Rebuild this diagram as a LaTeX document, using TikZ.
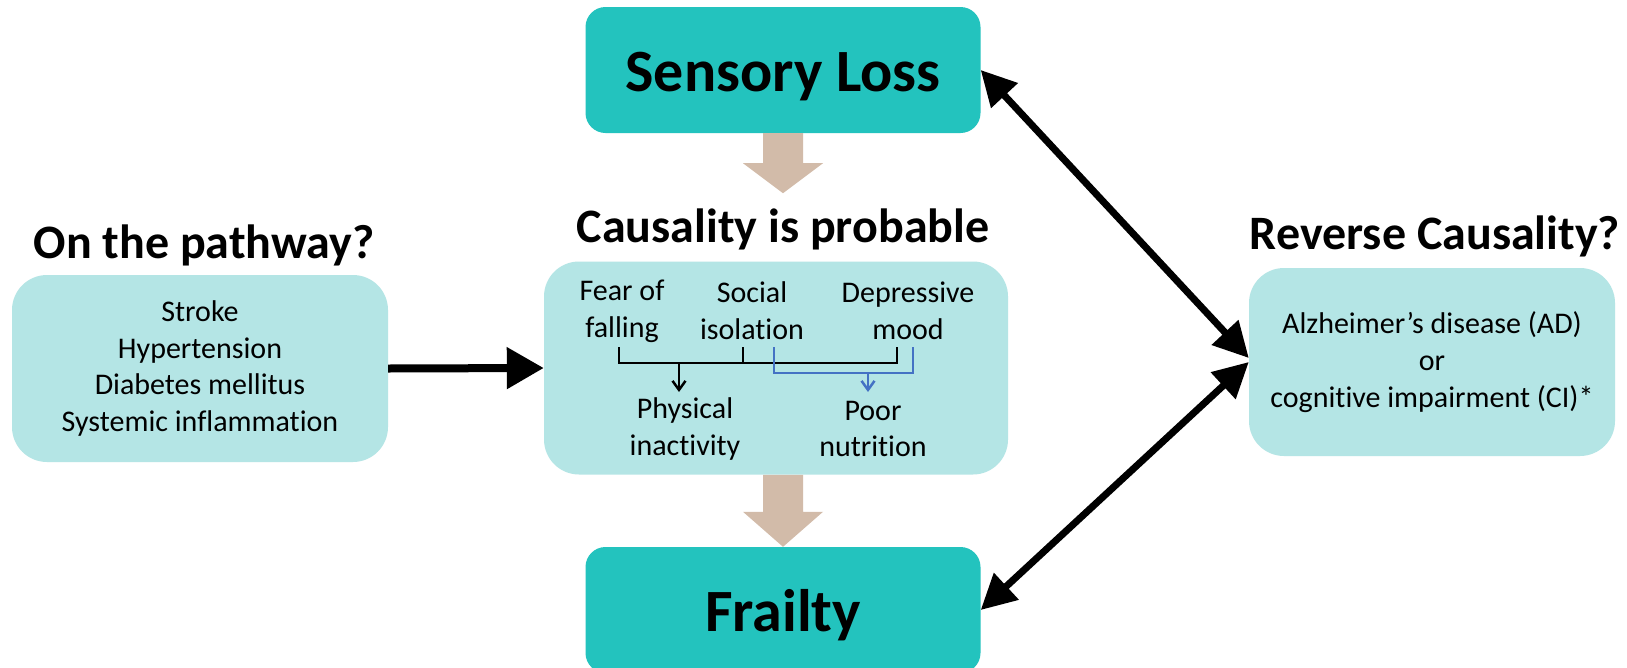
\documentclass[tikz,border=0pt]{standalone}
\usepackage{fontspec}
\setmainfont{Carlito}[Ligatures={NoCommon}]
\usetikzlibrary{arrows.meta,calc}
\definecolor{tealdark}{RGB}{35,195,190}
\definecolor{teallight}{RGB}{180,229,229}
\definecolor{beigec}{RGB}{210,187,169}
\definecolor{bluebr}{RGB}{68,114,196}
\newcommand\bodysize{\fontsize{30}{36.8}\selectfont}
\begin{document}
\begin{tikzpicture}[x=1pt,y=-1pt,
  bigbox/.style={rectangle, rounded corners=20pt, fill=tealdark, minimum width=395pt, minimum height=126pt, inner sep=0pt,
    font=\fontsize{60}{72}\selectfont\bfseries, text height=42pt, text depth=0pt},
  lightbox/.style={rectangle, rounded corners=35pt, fill=teallight, inner sep=0pt, align=center, font=\bodysize},
  titlelbl/.style={anchor=base, inner sep=0pt, font=\fontsize{48}{58}\selectfont\bfseries},
  bodylbl/.style={align=center, inner sep=0pt, font=\bodysize},
  bigarrow/.style={line width=7pt, {Triangle[length=35pt,width=35pt]}-{Triangle[length=35pt,width=35pt]}},
  patharrow/.style={line width=8pt, -{Triangle[length=37pt,width=40pt]}},
  brk/.style={line width=2.5pt, black},
  brkblue/.style={line width=2.5pt, bluebr},
  smalltip/.style={-{Straight Barb[length=9pt,width=13pt]}}
]
\useasboundingbox (0,0) rectangle (1627,667);
\clip (0,0) rectangle (1627,667);
\fill[white] (0,0) rectangle (1627,667);

% main boxes
\node[bigbox] (sensory) at (783,70) {Sensory Loss};
\node[bigbox] (frailty) at (783,610) {Frailty};
\node[lightbox, minimum width=464pt, minimum height=213pt] (cause) at (776,368) {};
\node[lightbox, minimum width=376pt, minimum height=187pt] (path) at (200,368.5)
  {Stroke\\Hypertension\\Diabetes mellitus\\Systemic inflammation};
\node[lightbox, minimum width=366pt, minimum height=188pt] (rev) at (1432,362)
  {Alzheimer’s disease (AD)\\or\\cognitive impairment (CI)*};

% titles
\node[titlelbl] (tpath) at (204,258) {On the pathway?};
\node[titlelbl] (tcause) at (783,242) {Causality is probable};
\node[titlelbl] (trev) at (1435,249) {Reverse Causality?};

% inner texts
\node[bodylbl] (fear) at (622,311) {Fear of\\falling};
\node[bodylbl] (social) at (752,311) {Social\\isolation};
\node[bodylbl] (depr) at (908,311) {Depressive\\mood};
\node[bodylbl] (phys) at (685,429) {Physical\\inactivity};
\node[bodylbl] (poor) at (873,429) {Poor\\nutrition};

% brackets
\coordinate (fa) at (619,347);
\coordinate (so) at (743,347);
\coordinate (de) at (897,347);
\coordinate (bj) at (679,363);
\coordinate (bjt) at (679,392);
\coordinate (sb) at (774,347);
\coordinate (db) at (913,347);
\coordinate (bb) at (868,373);
\coordinate (bbt) at (868,392);
\draw[brk] (fa) -- ++(0,16) -| (de);
\draw[brk] (so) -- ++(0,16);
\draw[brk, smalltip] (bj) -- (bjt);
\draw[brkblue] (sb) -- ++(0,26) -| (db);
\draw[brkblue, smalltip] (bb) -- (bbt);

% beige block arrows
\fill[beigec] ($(sensory.south)+(-20,0)$) -- ++(40,0) -- ++(0,30) -- ++(20,0) -- ++(-40,30) -- ++(-40,-30) -- ++(20,0) -- cycle;
\fill[beigec] (frailty.north) -- ++(-40,-35) -- ++(20,0) -- ++(0,-37) -- ++(40,0) -- ++(0,37) -- ++(20,0) -- cycle;

% connectors
\draw[patharrow] (path.east) -- (cause.west);
\draw[bigarrow] (sensory.east) -- ($(rev.west)+(0,-4)$);
\draw[bigarrow] (rev.west) -- (frailty.east);
\end{tikzpicture}
\end{document}
